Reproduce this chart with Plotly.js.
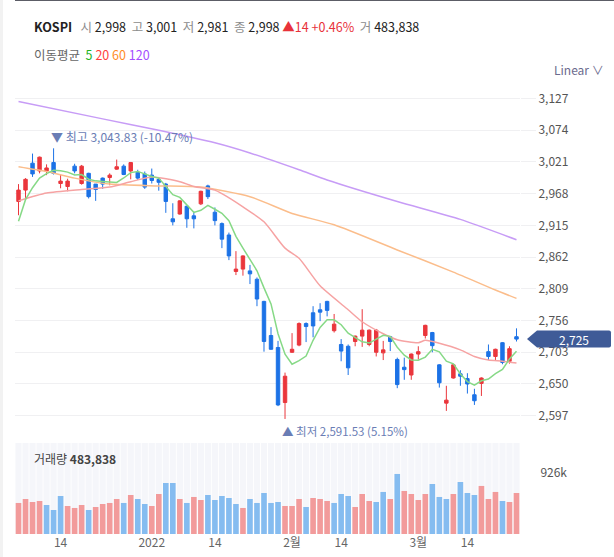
<!DOCTYPE html>
<html>
<head>
<meta charset="utf-8">
<script src="https://cdn.plot.ly/plotly-3.0.1.min.js"></script>
<style>
  html, body { margin: 0; padding: 0; background: #fff; }
  #chart { width: 614px; height: 557px; }
</style>
</head>
<body>
<div id="chart"></div>
<script>
// ---------------- DATA ----------------
const dates = [
  '2021-12-06','2021-12-07','2021-12-08','2021-12-09','2021-12-10','2021-12-13','2021-12-14','2021-12-15','2021-12-16','2021-12-17',
  '2021-12-20','2021-12-21','2021-12-22','2021-12-23','2021-12-24','2021-12-27','2021-12-28','2021-12-29','2021-12-30','2022-01-03',
  '2022-01-04','2022-01-05','2022-01-06','2022-01-07','2022-01-10','2022-01-11','2022-01-12','2022-01-13','2022-01-14','2022-01-17',
  '2022-01-18','2022-01-19','2022-01-20','2022-01-21','2022-01-24','2022-01-25','2022-01-26','2022-01-27','2022-01-28','2022-02-03',
  '2022-02-04','2022-02-07','2022-02-08','2022-02-09','2022-02-10','2022-02-11','2022-02-14','2022-02-15','2022-02-16','2022-02-17',
  '2022-02-18','2022-02-21','2022-02-22','2022-02-23','2022-02-24','2022-02-25','2022-02-28','2022-03-02','2022-03-03','2022-03-04',
  '2022-03-07','2022-03-08','2022-03-10','2022-03-11','2022-03-14','2022-03-15','2022-03-16','2022-03-17','2022-03-18','2022-03-21',
  '2022-03-22','2022-03-23'
];
const openP = [
  2955,2974,3019,3006,3006,3020,2985,2980,3014,2985,
  3002,2984,2994,2995,3009,3014,3006,3004,3001,2999,
  2992,2984,2926,2934,2947,2931,2951,2981,2937,2918,
  2899,2838,2842,2839,2825,2788,2731,2711,2619,2703,
  2715,2751,2769,2774,2788,2739,2716,2713,2721,2730,
  2716,2703,2702,2729,2691,2678,2665,2700,2731,2736,
  2682,2618,2660,2667,2659,2632,2651,2704,2696,2719,
  2688,2729
];
const highP = [
  2984,2994,3035,3030,3017,3043.83,3000,2993,3018,3016,
  3003,2984,2995,3002,3025,3017,3021,3008,3005,3010,
  2995,2986,2952,2957,2948,2938,2973,2983,2945,2920,
  2903,2872,2865,2849,2828,2789,2745,2722,2669,2735,
  2753,2753,2780,2785,2789,2767,2725,2716,2731,2775,
  2741,2742,2722,2730,2694,2694,2701,2713,2749,2737,
  2683,2647,2683,2673,2668,2642,2661,2716,2709,2720,
  2713,2743
];
const lowP = [
  2932,2961,2996,3002,2999,3000,2977,2972,3002,2983,
  2960,2956,2976,2982,3008,2999,2992,2991,2976,2985,
  2973,2936,2915,2933,2911,2910,2949,2959,2915,2877,
  2857,2832,2831,2817,2780,2704,2707,2613,2591.53,2702,
  2713,2720,2728,2755,2763,2736,2688,2665,2713,2712,
  2713,2696,2690,2705,2643,2657,2657,2691,2726,2703,
  2644,2605,2659,2647,2634,2615,2630,2690,2690,2683,
  2684,2721
];
const closeP = [
  2974,2992,3001,3029,3011,3002,2989,2989,3006,3014,
  2963,2975,2984,2999,3013,3000,3020,2994,2979,2990,
  2987,2955,2921,2956,2926,2926,2972,2963,2923,2892,
  2864,2842,2864,2834,2792,2721,2708,2615,2663,2708,
  2751,2746,2747,2770,2773,2750,2705,2677,2730,2740,
  2740,2740,2707,2721,2649,2674,2700,2704,2748,2714,
  2652,2623,2682,2663,2650,2622,2660,2696,2708,2686,
  2709,2725
];
// volume (thousands) and its up/down colouring
const volume = [
  471,531,486,501,440,364,577,425,395,440,
  364,410,455,471,531,471,592,531,455,425,
  607,774,774,531,471,562,516,592,516,577,
  546,455,395,531,471,622,471,486,425,425,
  531,410,546,531,501,471,607,577,410,607,
  501,486,638,531,911,653,607,516,607,759,
  562,531,607,789,622,592,729,531,638,501,
  486,622
];
const volUp = [
  1,1,1,1,0,0,0,1,1,1,
  0,1,1,1,1,0,1,0,0,1,
  1,0,0,1,0,1,1,0,0,0,
  0,0,1,0,0,0,0,0,1,1,
  1,0,1,1,1,0,0,0,1,1,
  1,0,0,1,0,1,1,1,1,0,
  0,0,1,0,0,0,1,1,1,0,
  1,1
];
// moving averages
const ma5 = [
  2922,2958,2978,2994,3001.4,3007.0,3006.4,3004.0,2999.4,3000.0,
  2992.2,2989.4,2988.4,2987.0,2986.8,2994.2,3003.2,3005.2,3001.2,2996.6,
  2994.0,2981.0,2966.4,2961.8,2949.0,2936.8,2940.2,2948.6,2942.0,2935.2,
  2922.8,2896.8,2877.0,2859.2,2839.2,2810.6,2783.8,2734.0,2699.8,2683.0,
  2689.0,2696.6,2723.0,2744.4,2757.4,2757.2,2749.0,2735.0,2727.0,2720.4,
  2718.4,2725.4,2731.4,2729.6,2711.4,2698.2,2690.2,2689.6,2695.0,2708.0,
  2703.6,2688.2,2683.8,2666.8,2654.0,2648.0,2655.4,2658.2,2667.2,2674.4,
  2691.8,2704.8
];
const ma20Idx = [0,4,9,13,16,19,23,25,28,29,32,35,38,40,43,47,49,52,54,57,58,60,63,65,67,69,71];
const ma20Val = [2956,2969,2975,2979,2988,2996,2988,2980,2974,2968,2946,2921,2877,2860,2814,2774,2754,2734,2724,2719,2723,2718,2707,2696,2690,2688,2685];
const ma60Idx = [0,4,8,13,20,26,33,39,45,54,62,68,71];
const ma60Val = [3013,3005,2994,2984,2981,2979,2963,2935,2916,2874,2837,2807,2793];
const ma120Idx = [0,12,20,28,33,40,44,54,63,71];
const ma120Val = [3122,3093,3074,3053,3036,3008,2991,2955,2925,2891];

const priceTicks = [2597,2650,2703,2756,2809,2862,2915,2968,3021,3074,3127];
const tickIdx = [6,19,28,39,46,57,64];
const tickLabels = ['14','2022','14','2월','14','3월','14'];
const volTick = 926000;
const volTickLabel = '926k';
const lastPrice = 2725;
const hiIdx = 5, hiVal = 3043.83, hiPct = '-10.47%';
const loIdx = 38, loVal = 2591.53, loPct = '5.15%';

// ---------------- STYLE ----------------
const FONT = 'Noto Sans CJK KR, Noto Sans, sans-serif';
const UP = '#ea363c', DOWN = '#1c72e6';
const VOL_UP = '#f29b9b', VOL_DOWN = '#85bcf0';
const NB = '\u00a0';
const fmt = v => v.toLocaleString('en-US');

// pixel helpers for paper coords (plot area: x 15..520, y 78..534)
const L = 15, R = 94, T = 78, B = 23, W = 614, H = 557;
const pw = W - L - R, ph = H - T - B;
const px = x => (x - L) / pw;
const py = y => (H - B - y) / ph;

const traces = [];
const pick = (idx) => idx.map(i => dates[i]);

traces.push({type:'scatter', mode:'lines', x: pick(ma120Idx), y: ma120Val, xaxis:'x', yaxis:'y',
  line:{color:'#c79cf6', width:1.5, shape:'spline', smoothing:0.6}, hoverinfo:'skip', showlegend:false});
traces.push({type:'scatter', mode:'lines', x: pick(ma60Idx), y: ma60Val, xaxis:'x', yaxis:'y',
  line:{color:'#fbbd8b', width:1.5, shape:'spline', smoothing:0.6}, hoverinfo:'skip', showlegend:false});
traces.push({type:'scatter', mode:'lines', x: pick(ma20Idx), y: ma20Val, xaxis:'x', yaxis:'y',
  line:{color:'#f6a3a3', width:1.5, shape:'spline', smoothing:0.6}, hoverinfo:'skip', showlegend:false});
traces.push({type:'scatter', mode:'lines', x: dates, y: ma5, xaxis:'x', yaxis:'y',
  line:{color:'#86d986', width:1.5}, hoverinfo:'skip', showlegend:false});

traces.push({type:'candlestick', x: dates, open: openP, high: highP, low: lowP, close: closeP,
  xaxis:'x', yaxis:'y', whiskerwidth:0,
  increasing:{line:{color:UP, width:1}, fillcolor:UP},
  decreasing:{line:{color:DOWN, width:1}, fillcolor:DOWN},
  hoverinfo:'skip', showlegend:false});

// volume pane background columns
const VOLMAX = 1381000;
traces.push({type:'bar', x: dates, y: dates.map(() => VOLMAX), xaxis:'x2', yaxis:'y2',
  width:0.88, marker:{color:'#f5f6fa', line:{width:0}}, hoverinfo:'skip', showlegend:false});
traces.push({type:'bar', x: dates, y: volume.map(v => v * 1000), xaxis:'x2', yaxis:'y2',
  width:0.8, marker:{color: volUp.map(u => u ? VOL_UP : VOL_DOWN), line:{width:0}},
  hoverinfo:'skip', showlegend:false});

const annotations = [
  {xref:'paper', yref:'paper', x: px(32), y: py(26), xanchor:'left', yanchor:'middle', showarrow:false,
   font:{family:FONT, size:12.5, color:'#222'},
   text:'<b>KOSPI</b>' + NB+NB+NB + '<span style="color:#8c8c8c">시</span>'+NB+'2,998'+NB+NB+
        '<span style="color:#8c8c8c">고</span>'+NB+'3,001'+NB+NB+
        '<span style="color:#8c8c8c">저</span>'+NB+'2,981'+NB+NB+
        '<span style="color:#8c8c8c">종</span>'+NB+'2,998'+NB+
        '<span style="color:#e8323a">▲14 +0.46%</span>'+NB+NB+
        '<span style="color:#8c8c8c">거</span>'+NB+'483,838'},
  {xref:'paper', yref:'paper', x: px(32), y: py(54), xanchor:'left', yanchor:'middle', showarrow:false,
   font:{family:FONT, size:12.5, color:'#666'},
   text:'이동평균'+NB+NB+'<span style="color:#1fb51f">5</span>'+NB+'<span style="color:#ff3d3d">20</span>'+NB+
        '<span style="color:#ff8c1f">60</span>'+NB+'<span style="color:#a54dff">120</span>'},
  {xref:'paper', yref:'paper', x: px(552), y: py(69), xanchor:'left', yanchor:'middle', showarrow:false,
   font:{family:FONT, size:12, color:'#6b6b8e'}, text:'Linear'+NB+'∨'},
  {xref:'paper', yref:'paper', x: px(32), y: py(458), xanchor:'left', yanchor:'middle', showarrow:false,
   font:{family:FONT, size:12, color:'#444'}, text:'거래량'+NB+'<b>'+fmt(483838)+'</b>'},
  {xref:'x', yref:'y', x: dates[hiIdx], y: hiVal, xanchor:'left', yanchor:'bottom', xshift:-5, yshift:1,
   showarrow:false, font:{family:FONT, size:12, color:'#6a7db5'},
   text:'▼'+NB+'최고'+NB+fmt(hiVal)+NB+'('+hiPct+')'},
  {xref:'x', yref:'y', x: dates[loIdx], y: loVal, xanchor:'left', yanchor:'top', xshift:-5, yshift:-2,
   showarrow:false, font:{family:FONT, size:11.5, color:'#6a7db5'},
   text:'▲'+NB+'최저'+NB+fmt(loVal)+NB+'('+loPct+')'},
  {xref:'paper', yref:'y', x: 1, y: lastPrice, xanchor:'center', yanchor:'middle', xshift:54,
   showarrow:false, font:{family:FONT, size:12, color:'#ffffff'}, text: fmt(lastPrice)}
];

const shapes = [
  {type:'line', xref:'paper', yref:'paper', x0: px(15), x1: px(614), y0: py(0), y1: py(0),
   line:{color:'#5c5d66', width:2}},
  {type:'rect', xref:'paper', yref:'paper', x0: px(0), x1: px(3), y0: py(557), y1: py(0),
   fillcolor:'#f2f2f2', line:{width:0}, layer:'below'},
  {type:'path', xref:'paper', yref:'y', xsizemode:'pixel', ysizemode:'pixel', xanchor:1, yanchor:lastPrice,
   path:'M 7 0 L 17 8.5 L 89 8.5 Q 91 8.5 91 6.5 L 91 -6.5 Q 91 -8.5 89 -8.5 L 17 -8.5 Z',
   fillcolor:'#3f5b97', line:{width:0}, layer:'above'}
];

const layout = {
  width: W, height: H,
  margin:{l:L, r:R, t:T, b:B, pad:0},
  paper_bgcolor:'#fff', plot_bgcolor:'#fff',
  font:{family:FONT, size:12, color:'#555'},
  showlegend:false,
  barmode:'overlay',
  xaxis:{type:'category', categoryorder:'array', categoryarray:dates, anchor:'y',
    range:[-0.5, dates.length - 0.5], showticklabels:false, showgrid:false, zeroline:false,
    showline:false, ticks:'', rangeslider:{visible:false}, fixedrange:true},
  xaxis2:{type:'category', categoryorder:'array', categoryarray:dates, anchor:'y2', matches:'x',
    range:[-0.5, dates.length - 0.5], tickvals: tickIdx.map(i => dates[i]), ticktext: tickLabels,
    tickfont:{family:FONT, size:12, color:'#666'}, showgrid:false, zeroline:false, showline:false,
    ticks:'', ticklen:0, fixedrange:true},
  yaxis:{domain:[0.2127, 1], range:[2561.4, 3161.3], side:'right', anchor:'x',
    tickvals: priceTicks, tickformat:',d', gridcolor:'#f0f0f2', gridwidth:1,
    ticks:'outside', ticklen:15, tickcolor:'#f0f0f2', tickwidth:1,
    tickfont:{family:FONT, size:12, color:'#555'}, zeroline:false, showline:false, fixedrange:true},
  yaxis2:{domain:[0, 0.1996], range:[0, VOLMAX], side:'right', anchor:'x2',
    tickvals:[volTick], ticktext:[volTickLabel], showgrid:false,
    ticks:'outside', ticklen:17, tickcolor:'rgba(0,0,0,0)',
    tickfont:{family:FONT, size:12, color:'#555'}, zeroline:false, showline:false, fixedrange:true},
  boxgap:0.3,
  annotations, shapes
};

Plotly.newPlot('chart', traces, layout, {staticPlot:true, displayModeBar:false});
</script>
</body>
</html>
